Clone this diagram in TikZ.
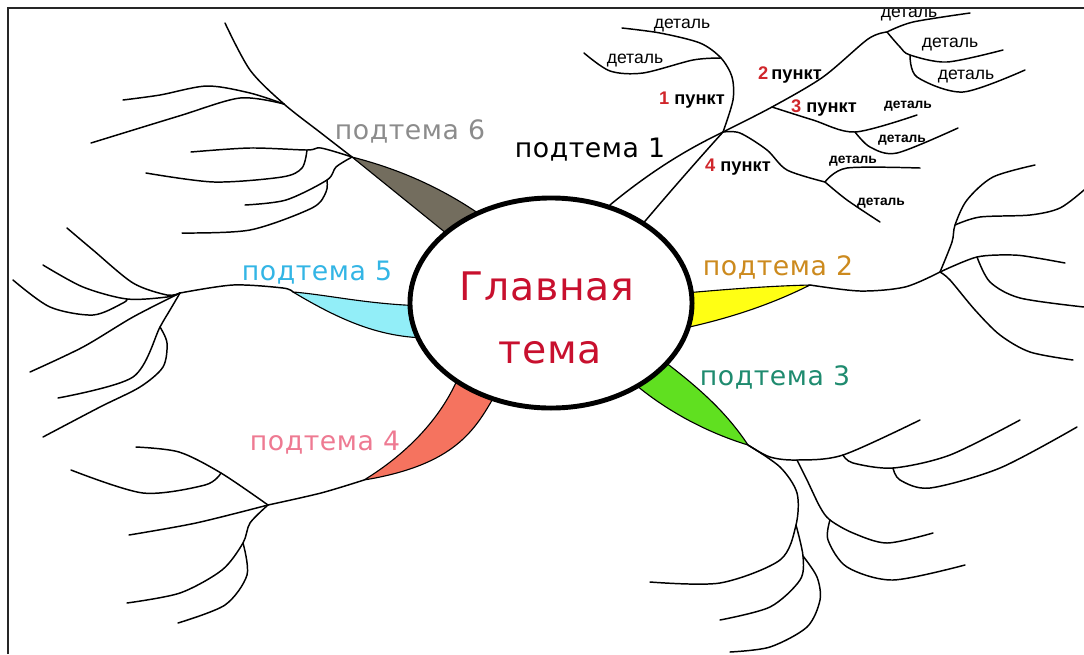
\documentclass[tikz,border=0pt]{standalone}
\usepackage{fontspec}
\setmainfont{Liberation Sans}
\newfontfamily\handfont[LetterSpace=2]{DejaVu Sans}
\usetikzlibrary{shapes.geometric}

\definecolor{titlered}{HTML}{C8102E}
\definecolor{numred}{HTML}{D0262B}
\definecolor{topic2}{HTML}{CC8A1E}
\definecolor{topic3}{HTML}{1F8B6F}
\definecolor{topic4}{HTML}{EE7A92}
\definecolor{topic5}{HTML}{33B5E5}
\definecolor{topic6}{HTML}{8C8C8C}
\definecolor{band2}{HTML}{FFFF14}
\definecolor{band3}{HTML}{60E020}
\definecolor{band4}{HTML}{F5735F}
\definecolor{band5}{HTML}{92EEF8}
\definecolor{band6}{HTML}{736D5E}

\tikzset{
  twig/.style={line width=1.05pt, line cap=round, line join=round},
  band/.style={line width=0.8pt, line join=round},
  topic/.style={font=\handfont\fontsize{19}{21}\selectfont, inner sep=0pt},
  headline/.style={font=\handfont\fontsize{28}{30}\selectfont, text=titlered, anchor=base, inner sep=0pt},
  detail/.style={font=\fontsize{12.5}{14}\selectfont, inner sep=0pt},
  smalldetail/.style={font=\bfseries\fontsize{9.8}{12}\selectfont, inner sep=0pt},
  item/.style={font=\bfseries\fontsize{13}{15}\selectfont, inner sep=0pt},
}
\newcommand{\num}[1]{\textcolor{numred}{#1}}

\begin{document}
\begin{tikzpicture}[x=0.025cm, y=-0.025cm]
\useasboundingbox (0,0) rectangle (1084,654);

% tips of the coloured roots
\coordinate (t2) at (810,285);
\coordinate (t3) at (748,445);
\coordinate (t4) at (364,480);
\coordinate (t5) at (293,292);
\coordinate (t6) at (352,157);

% coloured roots, their inner ends hidden by the ellipse
\draw[band, fill=band6] (t6) .. controls (395,168) and (440,186) .. (485,218) -- (462,246) -- cycle;
\draw[band, fill=band5] (t5) .. controls (330,295) and (370,305) .. (430,306) -- (430,338) .. controls (380,338) and (340,320) .. (t5);
\draw[band, fill=band4] (t4) .. controls (405,455) and (440,420) .. (458,378) -- (495,395) .. controls (475,430) and (455,465) .. (t4);
\draw[band, fill=band3] (665,362) .. controls (695,385) and (725,410) .. (t3) .. controls (715,435) and (670,415) .. (630,380) -- cycle;
\draw[band, fill=band2] (685,293) .. controls (730,289) and (770,286) .. (t2) .. controls (770,305) and (730,318) .. (685,328) -- cycle;

% central theme
\node[draw, ellipse, line width=3.5pt, fill=white, minimum width=7.05cm, minimum height=5.25cm] (centre) at (551,303) {};
\node[headline] (head1) at (547,300) {Главная};
\node[headline] (head2) at (550,363) {тема};

% sub-theme 1 with its points
\coordinate (p1) at (723,132);
\coordinate (j1) at (721,58);
\coordinate (j3) at (772,107);
\coordinate (j2) at (887,32);
\coordinate (j2b) at (910,55);
\coordinate (j3b) at (855,132);
\coordinate (j4) at (825,182);
\draw[twig] (centre.59) .. controls (655,168) and (690,148) .. (p1);
\draw[twig] (centre.41) .. controls (680,180) and (705,152) .. (p1);
\draw[twig] plot[smooth] coordinates {(p1) (733,100) (732,77) (j1) (700,43) (660,33) (622,28)};
\draw[twig] plot[smooth] coordinates {(j1) (693,60) (643,73) (610,71) (584,53)};
\draw[twig] plot[smooth] coordinates {(p1) (j3) (823,77) (868,39) (j2)};
\draw[twig] plot[smooth] coordinates {(j2) (913,22) (970,13)};
\draw[twig] plot[smooth] coordinates {(j2) (900,47) (j2b) (947,62) (1003,50)};
\draw[twig] plot[smooth] coordinates {(j2b) (917,77) (963,92) (1025,70)};
\draw[twig] plot[smooth] coordinates {(j3) (813,120) (j3b) (917,115)};
\draw[twig] plot[smooth] coordinates {(j3b) (870,147) (897,153) (958,128)};
\draw[twig] plot[smooth] coordinates {(p1) (740,133) (767,150) (787,170) (j4)};
\draw[twig] plot[smooth] coordinates {(j4) (847,168) (920,168)};
\draw[twig] plot[smooth] coordinates {(j4) (847,200) (880,222)};

% sub-theme 2
\coordinate (k2) at (940,272);
\coordinate (k2a) at (955,225);
\coordinate (k2b) at (977,257);
\draw[twig] plot[smooth] coordinates {(t2) (860,291) (905,287) (k2)};
\draw[twig] plot[smooth] coordinates {(k2) (952,242) (k2a) (967,200) (993,177) (1035,165)};
\draw[twig] plot[smooth] coordinates {(k2a) (980,217) (1030,215) (1060,208) (1084,190)};
\draw[twig] plot[smooth] coordinates {(k2) (k2b) (1013,255) (1037,258) (1065,263)};
\draw[twig] plot[smooth] coordinates {(k2b) (990,282) (1020,298) (1084,307)};
\draw[twig] plot[smooth] coordinates {(k2) (950,280) (975,310) (1000,335) (1030,352) (1073,360)};

% sub-theme 3
\coordinate (k3a) at (843,455);
\coordinate (k3b) at (893,468);
\coordinate (k3c) at (796,525);
\coordinate (k3d) at (803,556);
\coordinate (k3e) at (830,520);
\draw[twig] plot[smooth] coordinates {(t3) (770,457) (797,460) (k3a) (920,420)};
\draw[twig] plot[smooth] coordinates {(k3a) (853,463) (k3b) (950,455) (1020,420)};
\draw[twig] plot[smooth] coordinates {(k3b) (900,480) (930,488) (1000,468) (1077,427)};
\draw[twig] plot[smooth] coordinates {(t3) (780,467) (797,493) (k3c) (780,560) (720,583) (650,582)};
\draw[twig] plot[smooth] coordinates {(k3c) (k3d) (800,580) (770,607) (720,620)};
\draw[twig] plot[smooth] coordinates {(k3d) (817,577) (820,600) (807,627) (770,647) (730,652)};
\draw[twig] plot[smooth] coordinates {(797,460) (807,480) (820,507) (k3e) (853,533) (887,543) (933,533)};
\draw[twig] plot[smooth] coordinates {(k3e) (828,540) (847,567) (893,580) (965,565)};

% sub-theme 4
\coordinate (k4) at (268,505);
\coordinate (k4a) at (221,473);
\coordinate (k4b) at (243,543);
\draw[twig] plot[smooth] coordinates {(t4) (321,493) (k4)};
\draw[twig] plot[smooth] coordinates {(k4) (k4a) (179,452) (136,447)};
\draw[twig] plot[smooth] coordinates {(k4a) (205,485) (143,493) (71,470)};
\draw[twig] plot[smooth] coordinates {(k4) (196,523) (129,535)};
\draw[twig] plot[smooth] coordinates {(k4) (250,523) (k4b) (222,570) (180,593) (127,603)};
\draw[twig] plot[smooth] coordinates {(k4b) (247,575) (225,605) (178,623)};

% sub-theme 5
\coordinate (k5) at (180,293);
\coordinate (k5a) at (127,299);
\coordinate (k5b) at (160,327);
\draw[twig] plot[smooth] coordinates {(t5) (283,288) (233,285) (k5)};
\draw[twig] plot[smooth] coordinates {(k5) (167,295) (133,283) (93,250) (67,228)};
\draw[twig] plot[smooth] coordinates {(k5) (167,297) (k5a) (83,287) (43,265)};
\draw[twig] plot[smooth] coordinates {(k5a) (123,303) (93,315) (50,307) (13,280)};
\draw[twig] plot[smooth] coordinates {(k5) (133,317) (83,347) (30,372)};
\draw[twig] plot[smooth] coordinates {(k5) (170,310) (k5b) (133,377) (58,398)};
\draw[twig] plot[smooth] coordinates {(k5b) (167,343) (163,367) (140,387) (100,407) (43,437)};

% sub-theme 6
\coordinate (k6) at (284,104);
\coordinate (k6a) at (307,150);
\coordinate (k6b) at (327,180);
\draw[twig] plot[smooth] coordinates {(t6) (321,133) (k6) (250,70) (225,23)};
\draw[twig] plot[smooth] coordinates {(k6) (250,93) (207,86) (160,95) (123,100)};
\draw[twig] plot[smooth] coordinates {(k6) (240,98) (179,116) (91,143)};
\draw[twig] plot[smooth] coordinates {(t6) (321,148) (k6a) (250,148) (191,152)};
\draw[twig] plot[smooth] coordinates {(k6a) (302,168) (282,177) (214,182) (146,173)};
\draw[twig] plot[smooth] coordinates {(t6) (336,167) (k6b) (286,200) (245,205)};
\draw[twig] plot[smooth] coordinates {(k6b) (326,192) (312,208) (250,230) (182,233)};

% sub-theme captions
\node[topic, text=topic6] (sub6) at (410,131) {подтема 6};
\node[topic] (sub1) at (590,150) {подтема 1};
\node[topic, text=topic2] (sub2) at (778,267) {подтема 2};
\node[topic, text=topic3] (sub3) at (775,377) {подтема 3};
\node[topic, text=topic4] (sub4) at (325,443) {подтема 4};
\node[topic, text=topic5] (sub5) at (317,273) {подтема 5};

% points and details
\node[item] (pt1) at (692,100) {\num{1} пункт};
\node[item] (pt2) at (790,75) {\num{2}\,пункт};
\node[item] (pt3) at (824,108) {\num{3} пункт};
\node[item] (pt4) at (738,167) {\num{4} пункт};
\node[detail] (d1) at (682,26) {деталь};
\node[detail] (d2) at (635,61) {деталь};
\begin{scope}
  \clip (0,9) rectangle (1084,40);
  \node[detail] (d3) at (909,15) {деталь};
\end{scope}
\node[detail] (d4) at (950,45) {деталь};
\node[detail] (d5) at (966,77) {деталь};
\node[smalldetail] (d6) at (908,106) {деталь};
\node[smalldetail] (d7) at (902,140) {деталь};
\node[smalldetail] (d8) at (853,161) {деталь};
\node[smalldetail] (d9) at (881,203) {деталь};

% sheet edge
\draw[line width=1.8pt, black!85] (8,654) -- (8,8) -- (1084,8);
\end{tikzpicture}
\end{document}
